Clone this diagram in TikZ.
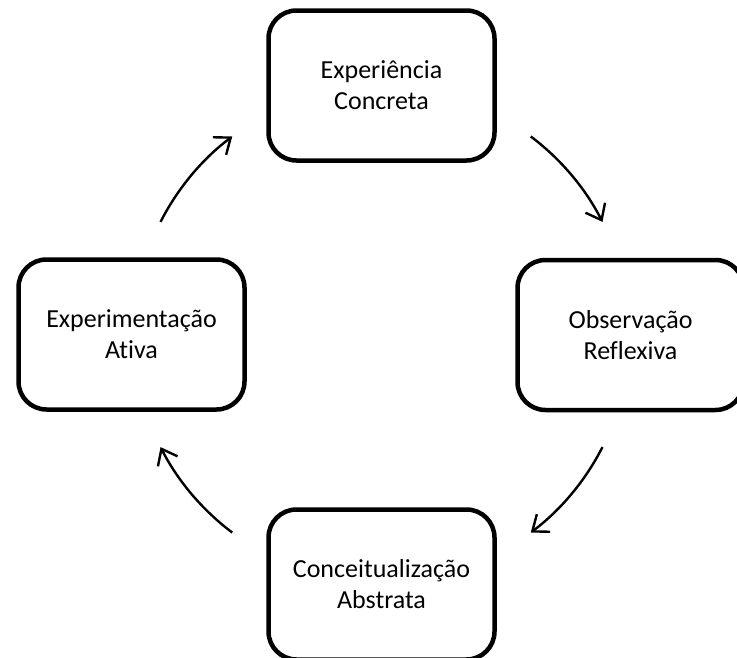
\documentclass[tikz,border=0pt]{standalone}
\usepackage{fontspec}
\setmainfont[Ligatures=NoCommon]{Carlito}
\usetikzlibrary{arrows.meta}
\begin{document}
\begin{tikzpicture}[x=1pt,y=1pt,
    stagebox/.style={draw, line width=4.5pt, rounded corners=28pt, minimum width=226pt,
      minimum height=150pt, align=center, font=\fontsize{26}{31}\selectfont},
    cyclearrow/.style={line width=2.4pt, -{Straight Barb[length=14pt,width=22pt,line width=2.4pt]}}]
\useasboundingbox (0,0) rectangle (737,-657);
% Draw the boxes
        \coordinate (C) at (381.5,-334.5);
        \node[stagebox] (top) at (381.5,-85.5) {Experiência\\Concreta};
        \node[stagebox] (right) at (630.5,-335) {Observação\\Reflexiva};
        \node[stagebox] (left) at (131.5,-334.5) {Experimentação\\Ativa};
        \node[stagebox] (bottom) at (381.5,-584.5) {Conceitualização\\Abstrata};
% Draw the arrows
        \draw[cyclearrow] (C) ++(153:248) arc[start angle=153, end angle=127, radius=248];
        \draw[cyclearrow] (C) ++(53:248) arc[start angle=53, end angle=27, radius=248];
        \draw[cyclearrow] (C) ++(-27:248) arc[start angle=-27, end angle=-53, radius=248];
        \draw[cyclearrow] (C) ++(-127:248) arc[start angle=-127, end angle=-153, radius=248];
\end{tikzpicture}
\end{document}
